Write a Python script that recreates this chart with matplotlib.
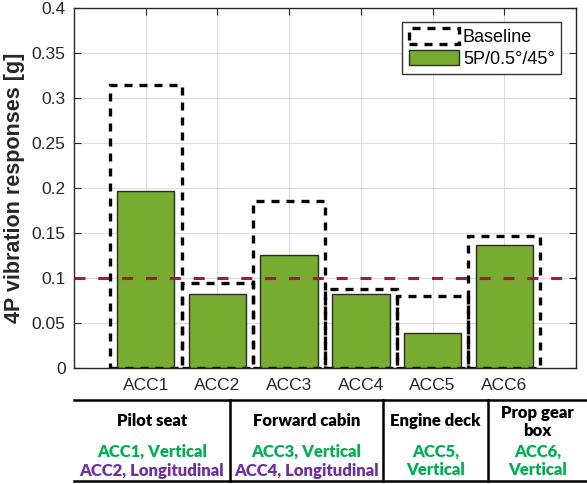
import matplotlib.pyplot as plt
from matplotlib.lines import Line2D
from matplotlib.patches import Patch

# values
sensors = ["ACC1", "ACC2", "ACC3", "ACC4", "ACC5", "ACC6"]
baseline = [0.314, 0.094, 0.186, 0.088, 0.080, 0.147]
modified = [0.197, 0.082, 0.126, 0.082, 0.039, 0.137]
limit = 0.1
y_ticks = [0, 0.05, 0.1, 0.15, 0.2, 0.25, 0.3, 0.35, 0.4]
y_tick_labels = ["0", "0.05", "0.1", "0.15", "0.2", "0.25", "0.3", "0.35", "0.4"]

# location table under the chart
locations = ["Pilot seat", "Forward cabin", "Engine deck", "Prop gear\nbox"]
vertical_text = ["ACC1, Vertical", "ACC3, Vertical", "ACC5,\nVertical", "ACC6,\nVertical"]
longitudinal_text = ["ACC2, Longitudinal", "ACC4, Longitudinal", "", ""]

GREEN = "#77AC30"
RED = "#A8183A"
BASE_DASH = (0, (2.4, 2.1))

W, H = 587, 484
fig = plt.figure(figsize=(W / 100, H / 100), dpi=100)
plt.rcParams["font.family"] = ["Liberation Sans", "DejaVu Sans"]

# axes box in pixels: left 74, right 576, top 8, bottom 368
ax = fig.add_axes([74 / W, 1 - 368 / H, 502 / W, 360 / H])

x = list(range(1, len(sensors) + 1))
ax.bar(x, baseline, width=1.0, fill=False, edgecolor="black",
       linestyle=BASE_DASH, linewidth=2.4, zorder=3)
ax.bar(x, modified, width=0.8, color=GREEN, edgecolor="#2b2b2b",
       linewidth=1.0, zorder=2)
ax.axhline(limit, color=RED, linestyle=(0, (3.6, 4.2)), linewidth=2.2, zorder=4)

ax.set_xlim(0, 7)
ax.set_ylim(0, 0.4)
ax.set_xticks(x)
ax.set_xticklabels(sensors, fontsize=12.5, color="#262626")
ax.set_yticks(y_ticks)
ax.set_yticklabels(y_tick_labels, fontsize=12.5, color="#262626")
ax.tick_params(direction="in", length=5, width=0.8, color="#262626",
               top=True, right=True, bottom=False)
ax.tick_params(axis="x", pad=7)
ax.tick_params(axis="y", pad=6)
ax.grid(True, color="#dedede", linewidth=0.8, zorder=0)
ax.set_axisbelow(True)
for s in ax.spines.values():
    s.set_color("#262626")
    s.set_linewidth(1.0)
ax.set_ylabel("4P vibration responses [g]", fontsize=15.5, fontweight="bold",
              labelpad=5, color="#262626")

handles = [
    Patch(facecolor="none", edgecolor="black", linestyle=BASE_DASH, linewidth=2.4),
    Patch(facecolor=GREEN, edgecolor="#2b2b2b", linewidth=1.0),
]
ax.legend(handles, ["Baseline", "5P/0.5°/45°"], loc="upper right",
          bbox_to_anchor=((561 - 74) / 502, (368 - 22) / 360), fontsize=13,
          frameon=True, fancybox=False, edgecolor="#333333", framealpha=1,
          handlelength=2.8, handleheight=0.95, handletextpad=0.2,
          borderpad=0.35, labelspacing=0.2, borderaxespad=0)

# table drawn in figure pixels
def fx(px):
    return px / W

def fy(py):
    return 1 - py / H

table_top, table_bottom = 400, 481
col_edges = [74, 230, 383, 488, 587]
for yy in (table_top, table_bottom):
    fig.add_artist(Line2D([fx(74), fx(587)], [fy(yy), fy(yy)],
                          color="black", linewidth=1.8))
for xx in col_edges[1:-1]:
    fig.add_artist(Line2D([fx(xx), fx(xx)], [fy(table_top), fy(table_bottom)],
                          color="black", linewidth=1.8))

tfont = ["Lato", "DejaVu Sans"]
tsize = 12
tweight = "heavy"
for i, name in enumerate(locations):
    cx = fx((col_edges[i] + col_edges[i + 1]) / 2)
    if "\n" in name:
        fig.text(cx, fy(422), name, ha="center", va="center", fontsize=tsize,
                 fontweight=tweight, family=tfont, linespacing=1.2)
    else:
        fig.text(cx, fy(421), name, ha="center", va="center", fontsize=tsize,
                 fontweight=tweight, family=tfont)
    if longitudinal_text[i]:
        fig.text(cx, fy(452), vertical_text[i], ha="center", va="center",
                 fontsize=tsize, fontweight=tweight, family=tfont, color="#00B050")
        fig.text(cx, fy(471), longitudinal_text[i], ha="center", va="center",
                 fontsize=tsize, fontweight=tweight, family=tfont, color="#7030A0")
    else:
        fig.text(cx, fy(461), vertical_text[i], ha="center", va="center",
                 fontsize=tsize, fontweight=tweight, family=tfont, color="#00B050",
                 linespacing=1.15)

fig.savefig("out.png", dpi=100)
